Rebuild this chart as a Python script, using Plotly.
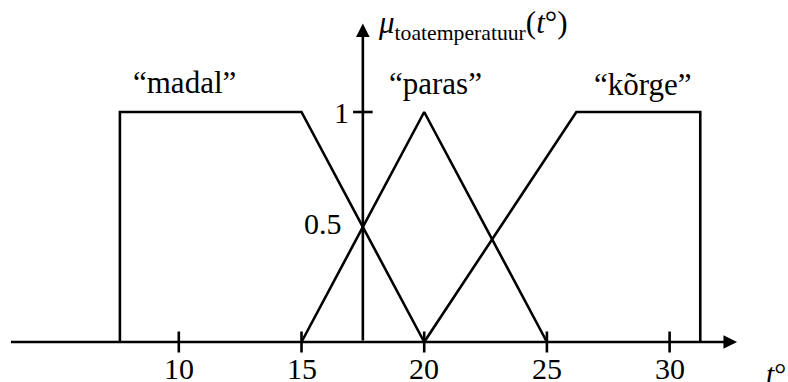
import plotly.graph_objects as go

# ---- data ----
madal_t = [7.6, 7.6, 15, 20]
madal_mu = [0, 1, 1, 0]
paras_t = [15, 20, 25]
paras_mu = [0, 1, 0]
korge_t = [20, 26.2, 31.25, 31.25]
korge_mu = [0, 1, 1, 0]
x_ticks = [10, 15, 20, 25, 30]
x_tick_labels = ["10", "15", "20", "25", "30"]
y_ticks = [1, 0.5]
y_tick_labels = ["1", "0.5"]
y_axis_t = 17.5
set_labels = ["\u201cmadal\u201d", "\u201cparas\u201d", "\u201ck\u00f5rge\u201d"]
set_label_t = [10.25, 20.47, 28.9]
set_label_mu = [1.13, 1.126, 1.118]

FONT = "Liberation Serif, Times New Roman, serif"
FS = 30
LW = 2.6

fig = go.Figure()
for xs, ys in [(madal_t, madal_mu), (paras_t, paras_mu), (korge_t, korge_mu)]:
    fig.add_trace(go.Scatter(x=xs, y=ys, mode="lines",
                             line=dict(color="black", width=LW), hoverinfo="skip"))

# x axis line + arrow
fig.add_annotation(x=32.75, y=0, ax=3.1, ay=0, xref="x", yref="y", axref="x", ayref="y",
                   showarrow=True, arrowhead=2, arrowsize=1.05, arrowwidth=LW,
                   arrowcolor="black", text="")
# y axis line + arrow
fig.add_annotation(x=y_axis_t, y=1.385, ax=y_axis_t, ay=0, xref="x", yref="y", axref="x", ayref="y",
                   showarrow=True, arrowhead=2, arrowsize=1.05, arrowwidth=LW,
                   arrowcolor="black", text="")

# tick marks
fig.add_trace(go.Scatter(x=x_ticks, y=[0] * len(x_ticks), mode="markers",
                         marker=dict(symbol="line-ns", size=15, line=dict(color="black", width=LW)),
                         hoverinfo="skip"))
fig.add_trace(go.Scatter(x=[y_axis_t], y=[y_ticks[0]], mode="markers",
                         marker=dict(symbol="line-ew", size=14, line=dict(color="black", width=LW)),
                         hoverinfo="skip"))

# tick labels
for t, lab in zip(x_ticks, x_tick_labels):
    fig.add_annotation(x=t, y=-0.115, xref="x", yref="y", text=lab, showarrow=False,
                       font=dict(family=FONT, size=FS, color="black"), xanchor="center", yanchor="middle")
fig.add_annotation(x=17.0, y=0.996, xref="x", yref="y", text=y_tick_labels[0], showarrow=False,
                   font=dict(family=FONT, size=FS, color="black"), xanchor="right", yanchor="middle")
fig.add_annotation(x=16.75, y=0.517, xref="x", yref="y", text=y_tick_labels[1], showarrow=False,
                   font=dict(family=FONT, size=FS, color="black"), xanchor="right", yanchor="middle")

# set labels
for t, m, lab in zip(set_label_t, set_label_mu, set_labels):
    fig.add_annotation(x=t, y=m, xref="x", yref="y", text=lab, showarrow=False,
                       font=dict(family=FONT, size=31, color="black"), xanchor="center", yanchor="middle")

# axis titles
fig.add_annotation(x=18.05, y=1.38, xref="x", yref="y",
                   text="<i>\u03bc</i><sub>toatemperatuur</sub>(<i>t</i>\u00b0)", showarrow=False,
                   font=dict(family=FONT, size=31, color="black"), xanchor="left", yanchor="middle")
fig.add_annotation(x=34.35, y=-0.055, xref="x", yref="y", text="<i>t</i>\u00b0", showarrow=False,
                   font=dict(family=FONT, size=FS, color="black"), xanchor="center", yanchor="top")

fig.update_layout(
    width=788, height=382,
    margin=dict(l=0, r=0, t=0, b=0),
    paper_bgcolor="white", plot_bgcolor="white",
    showlegend=False,
    xaxis=dict(range=[2.714, 34.825], visible=False, fixedrange=True),
    yaxis=dict(range=[-0.1739, 1.487], visible=False, fixedrange=True),
)
fig.write_html("out.html", config={"displayModeBar": False},
               post_script="document.body.style.margin='0';document.body.style.overflow='hidden';")
